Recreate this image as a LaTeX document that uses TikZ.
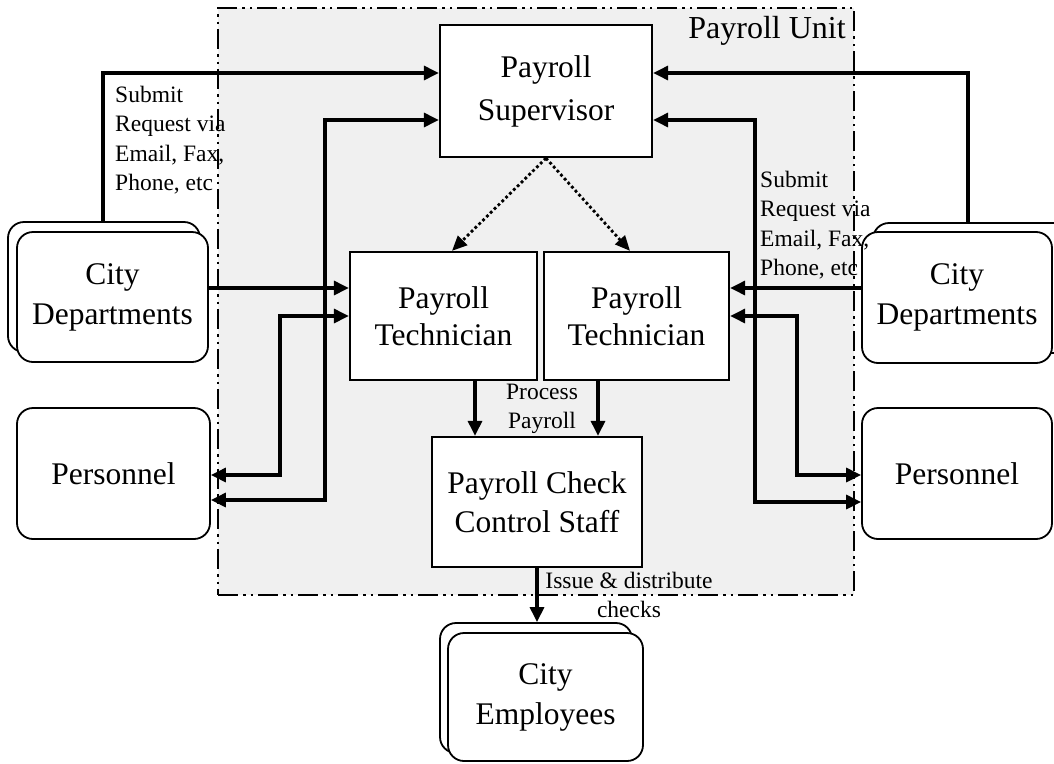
\documentclass[tikz,border=0pt]{standalone}
\usepackage{fontspec}
\setmainfont{Liberation Serif}
\usetikzlibrary{arrows.meta}
\begin{document}
\begin{tikzpicture}[x=1pt,y=-1pt,
  box/.style={draw, line width=2.3pt, fill=white, inner sep=0pt, align=center, font=\fontsize{31.5}{39}\selectfont},
  rbox/.style={draw, line width=1.8pt, fill=white, rounded corners=16pt, inner sep=0pt, align=center, font=\fontsize{31.5}{40}\selectfont},
  lbl/.style={inner sep=0pt, font=\fontsize{23.5}{29.5}\selectfont},
  conn/.style={line width=3.2pt, -{Triangle[length=15pt,width=14pt]}},
  conntwo/.style={line width=3.2pt, {Triangle[length=15pt,width=14pt]}-{Triangle[length=15pt,width=14pt]}},
  dotarr/.style={line width=2.8pt, dash pattern=on 2.8pt off 2.6pt, -{Triangle[length=15pt,width=13pt]}},
  unitframe/.style={draw, line width=2.4pt, dash pattern=on 20pt off 5pt on 2.5pt off 5pt on 2.5pt off 5pt, fill=black!6, inner sep=0pt}]
\useasboundingbox (0,0) rectangle (1054,763);
\begin{scope}
\clip (0,0) rectangle (1054,763);

% payroll unit frame
\node[unitframe, minimum width=636pt, minimum height=587pt] (unit) at (536,301.5) {};
\node[font=\fontsize{32}{36}\selectfont, inner sep=0pt] (unitlbl) at (767,31) {Payroll Unit};

% inner boxes
\node[box, minimum width=212pt, minimum height=132pt, font=\fontsize{31.5}{43}\selectfont] (sup) at (546,91) {Payroll\\Supervisor};
\node[box, minimum width=187pt, minimum height=128pt, font=\fontsize{31.5}{37}\selectfont] (techL) at (443.5,316) {Payroll\\Technician};
\node[box, minimum width=185pt, minimum height=128pt, font=\fontsize{31.5}{37}\selectfont] (techR) at (636.5,316) {Payroll\\Technician};
\node[box, minimum width=210pt, minimum height=130pt] (ctrl) at (537,502) {Payroll Check\\Control Staff};

% left city departments (stacked)
\node[rbox, minimum width=192pt, minimum height=130pt] (cdLb) at (104,287) {};
\node[rbox, minimum width=191pt, minimum height=130pt] (cdL) at (112.5,297) {City\\Departments};
% right city departments (stacked)
\node[rbox, minimum width=202pt, minimum height=130pt] (cdRb) at (974,288) {};
\node[rbox, minimum width=190pt, minimum height=131pt] (cdR) at (957,297.5) {City\\Departments};

% personnel
\node[rbox, minimum width=193pt, minimum height=131pt] (perL) at (113.5,473.5) {Personnel};
\node[rbox, minimum width=190pt, minimum height=131pt] (perR) at (957,473.5) {Personnel};

% city employees (stacked)
\node[rbox, minimum width=192pt, minimum height=130pt] (empb) at (536,688) {};
\node[rbox, minimum width=195pt, minimum height=128pt] (emp) at (545.5,697) {City\\Employees};

% coordinates of bends
\coordinate (lA) at (103,73);
\coordinate (lB) at (325,120);
\coordinate (lC) at (325,500);
\coordinate (lD) at (280,316);
\coordinate (lE) at (280,475);
\coordinate (rA) at (968,73);
\coordinate (rB) at (755,120);
\coordinate (rC) at (755,502);
\coordinate (rD) at (797,316);
\coordinate (rE) at (797,475);

% left connectors
\draw[conn] (cdLb.north -| lA) -- (lA) -- (sup.west |- lA);
\draw[conntwo] (sup.west |- lB) -- (lB) -- (lC) -- (perL.east |- lC);
\draw[conn] (cdL.east |- 0,288) -- (techL.west |- 0,288);
\draw[conntwo] (techL.west |- lD) -- (lD) -- (lE) -- (perL.east |- lE);

% right connectors
\draw[conn] (cdRb.north -| rA) -- (rA) -- (sup.east |- rA);
\draw[conntwo] (sup.east |- rB) -- (rB) -- (rC) -- (perR.west |- rC);
\draw[conn] (cdR.west |- 0,288) -- (techR.east |- 0,288);
\draw[conntwo] (techR.east |- rD) -- (rD) -- (rE) -- (perR.west |- rE);

% supervisor to technicians (dotted)
\draw[dotarr] (sup.south) -- (techL.north -| 452,0);
\draw[dotarr] (sup.south) -- (techR.north -| 630,0);

% technicians to control staff
\draw[conn] (techL.south -| 475,0) -- (ctrl.north -| 475,0);
\draw[conn] (techR.south -| 598,0) -- (ctrl.north -| 598,0);

% control staff to employees
\draw[conn] (ctrl.south -| 537,0) -- (empb.north -| 537,0);

% labels
\node[lbl, align=left, anchor=west] (subL) at (115,140) {Submit\\Request via\\Email, Fax,\\Phone, etc};
\node[lbl, align=left, anchor=west] (subR) at (760,225) {Submit\\Request via\\Email, Fax,\\Phone, etc};
\node[lbl, align=center] (proc) at (542,409) {Process\\Payroll};
\node[lbl, align=center] (issue) at (629,595) {Issue \& distribute\\checks};
\end{scope}
\end{tikzpicture}
\end{document}
